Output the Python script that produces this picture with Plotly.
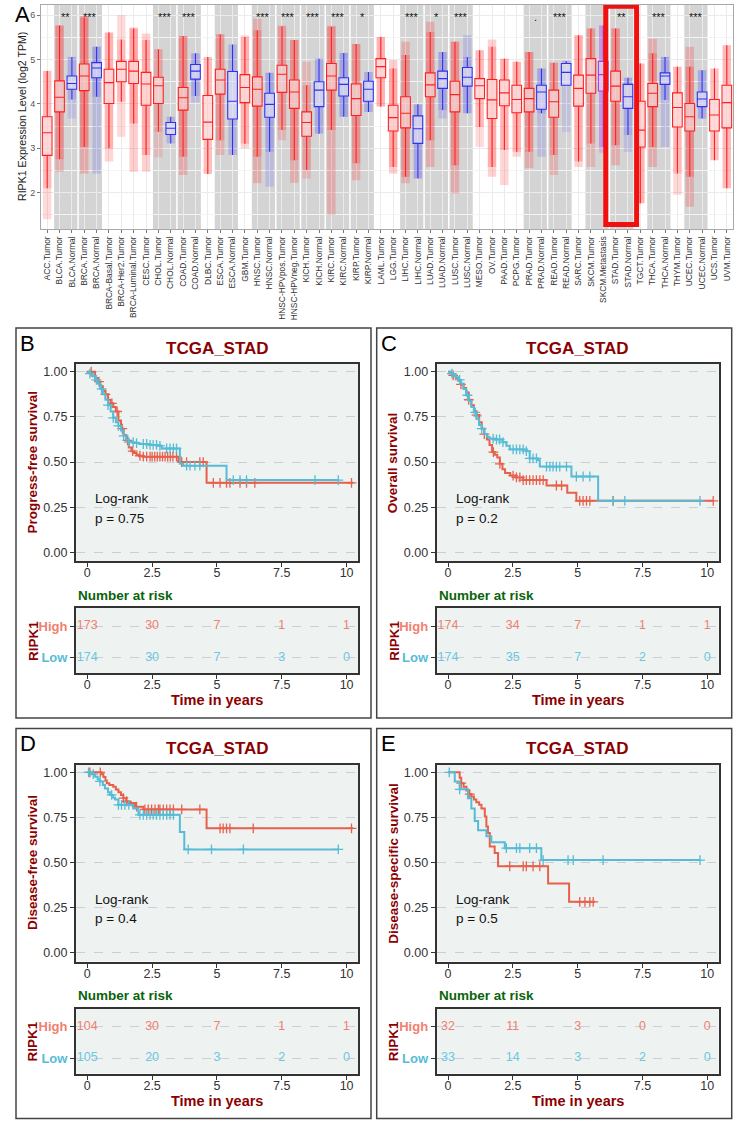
import numpy as np
import plotly.graph_objects as go

W, H = 740, 1127
FONT = "Liberation Sans, Arial, Helvetica, sans-serif"

# ---------------- Panel A data ----------------
cats = ["ACC.Tumor","BLCA.Tumor","BLCA.Normal","BRCA.Tumor","BRCA.Normal","BRCA-Basal.Tumor",
        "BRCA-Her2.Tumor","BRCA-Luminal.Tumor","CESC.Tumor","CHOL.Tumor","CHOL.Normal","COAD.Tumor",
        "COAD.Normal","DLBC.Tumor","ESCA.Tumor","ESCA.Normal","GBM.Tumor","HNSC.Tumor","HNSC.Normal",
        "HNSC-HPVpos.Tumor","HNSC-HPVneg.Tumor","KICH.Tumor","KICH.Normal","KIRC.Tumor","KIRC.Normal",
        "KIRP.Tumor","KIRP.Normal","LAML.Tumor","LGG.Tumor","LIHC.Tumor","LIHC.Normal","LUAD.Tumor",
        "LUAD.Normal","LUSC.Tumor","LUSC.Normal","MESO.Tumor","OV.Tumor","PAAD.Tumor","PCPG.Tumor",
        "PRAD.Tumor","PRAD.Normal","READ.Tumor","READ.Normal","SARC.Tumor","SKCM.Tumor","SKCM.Metastasis",
        "STAD.Tumor","STAD.Normal","TGCT.Tumor","THCA.Tumor","THCA.Normal","THYM.Tumor","UCEC.Tumor",
        "UCEC.Normal","UCS.Tumor","UVM.Tumor"]
q3  = [3.71,4.52,4.63,4.90,4.93,4.78,4.96,4.96,4.71,4.60,3.58,4.37,4.89,4.19,4.78,4.73,4.66,4.61,4.24,4.87,
       4.54,3.82,4.50,4.91,4.59,4.45,4.51,5.02,3.97,4.16,3.73,4.70,4.74,4.51,4.82,4.57,4.55,4.54,4.42,4.35,
       4.42,4.31,4.91,4.65,5.02,4.96,4.74,4.44,4.06,4.46,4.70,4.25,4.01,4.27,4.10,4.42]
med = [3.35,4.15,4.46,4.63,4.81,4.48,4.78,4.74,4.45,4.41,3.45,4.14,4.74,3.59,4.54,4.06,4.37,4.33,3.99,4.67,
       4.27,3.58,4.31,4.63,4.44,4.12,4.33,4.84,3.69,3.79,3.44,4.43,4.57,4.21,4.60,4.41,4.09,4.25,4.10,4.12,
       4.27,4.05,4.71,4.35,4.65,4.66,4.40,4.16,3.41,4.24,4.63,3.92,3.71,4.11,3.75,4.03]
q1  = [2.84,3.82,4.33,4.30,4.59,4.01,4.50,4.46,3.97,4.01,3.31,3.86,4.56,3.20,4.22,3.66,4.03,3.95,3.70,4.26,
       3.90,3.27,3.94,4.31,4.18,3.74,4.06,4.59,3.39,3.46,3.11,4.16,4.35,3.82,4.40,4.12,3.67,3.96,3.80,3.82,
       3.88,3.70,4.42,3.95,4.24,4.29,4.06,3.90,3.03,3.94,4.44,3.48,3.39,3.94,3.39,3.46]
whi = [4.74,5.77,5.06,5.95,5.29,5.61,5.45,5.70,5.44,5.23,3.71,5.53,5.14,5.06,5.57,5.34,5.51,5.66,4.70,5.75,
       5.44,4.42,5.02,5.74,5.15,5.35,4.72,5.51,4.80,5.10,3.99,5.62,5.17,5.40,5.06,5.21,5.29,5.02,4.95,5.17,
       4.80,4.93,4.97,5.55,5.70,5.77,5.70,4.59,4.91,5.14,5.06,4.84,4.84,4.76,4.80,5.32]
wlo = [2.10,2.75,4.10,3.03,4.16,3.00,4.05,3.56,2.85,3.37,3.11,2.81,4.18,2.42,3.18,2.85,3.10,2.81,2.92,3.41,
       2.73,2.51,3.33,3.41,3.71,2.66,3.82,3.94,2.58,2.36,2.32,3.18,3.86,2.62,3.79,3.48,2.58,2.96,2.92,2.92,
       3.79,2.85,4.41,2.70,3.11,3.03,3.07,3.30,1.76,3.03,4.09,2.43,2.36,3.67,2.73,2.10]
dot_max = [4.75,5.77,5.06,5.98,5.29,5.61,6.00,5.72,5.59,5.23,3.71,5.53,5.14,5.06,5.57,5.34,5.55,5.92,4.70,5.77,
           5.44,4.95,5.02,5.76,5.15,5.35,4.72,5.51,4.99,5.40,3.99,5.85,5.17,5.40,5.55,5.21,5.45,5.02,4.95,5.17,
           4.80,4.93,4.97,5.55,5.70,5.77,5.70,4.59,4.91,5.47,5.06,4.84,5.29,4.76,4.80,5.32]
dot_min = [1.40,2.47,3.67,2.43,2.43,2.70,3.26,2.47,2.47,2.80,3.11,2.40,4.03,2.42,2.85,2.85,3.00,2.21,2.13,3.18,
           2.22,2.32,3.33,1.50,3.71,2.28,3.82,3.94,2.43,2.21,2.32,2.58,3.67,1.98,3.79,3.03,2.36,2.17,2.81,2.55,
           2.81,2.40,3.37,2.58,2.58,2.90,2.62,2.92,1.76,2.58,3.03,1.95,1.68,3.67,2.73,2.10]
dot_density = [79,408,19,1093,112,190,82,566,304,36,9,457,41,48,184,11,153,520,44,97,421,66,25,533,72,290,32,
               173,516,371,50,515,59,501,51,87,303,178,179,497,52,166,10,259,103,368,415,35,150,509,59,120,545,
               35,57,80]
band_first = ["BLCA.Tumor","BRCA.Tumor","CHOL.Tumor","COAD.Tumor","ESCA.Tumor","HNSC.Tumor","HNSC-HPVpos.Tumor",
              "KICH.Tumor","KIRC.Tumor","KIRP.Tumor","LIHC.Tumor","LUAD.Tumor","LUSC.Tumor","PRAD.Tumor",
              "READ.Tumor","SKCM.Tumor","STAD.Tumor","THCA.Tumor","UCEC.Tumor"]
band_last = ["BLCA.Normal","BRCA.Normal","CHOL.Normal","COAD.Normal","ESCA.Normal","HNSC.Normal","HNSC-HPVneg.Tumor",
             "KICH.Normal","KIRC.Normal","KIRP.Normal","LIHC.Normal","LUAD.Normal","LUSC.Normal","PRAD.Normal",
             "READ.Normal","SKCM.Metastasis","STAD.Normal","THCA.Normal","UCEC.Normal"]
band_sig = ["**","***","***","***","","***","***","***","***","*","***","*","***",".","***","","**","***","***"]
highlight = ["STAD.Tumor", "STAD.Normal"]

# ---------------- KM data ----------------
B_hi_t = [0,0.3,0.4,0.5,0.6,0.7,0.8,0.9,1.0,1.1,1.2,1.3,1.4,1.5,1.6,1.7,1.8,1.9,2.0,2.15,3.51,4.6]
B_hi_s = [1,0.965,0.945,0.92,0.895,0.875,0.845,0.825,0.805,0.78,0.73,0.685,0.65,0.62,0.58,0.56,0.55,0.54,0.535,0.53,0.50,0.385]
B_hi_end = 10.26
B_hi_cens = [0.15,0.45,0.7,0.95,1.15,1.35,1.55,1.75,2.03,2.16,2.29,2.42,2.5,2.6,2.7,2.8,2.9,3.0,3.1,3.2,3.3,3.44,
             3.64,3.83,4.34,4.47,4.86,5.12,5.37,5.5,5.89,6.14,6.46,10.19]
B_lo_t = [0,0.1,0.2,0.3,0.4,0.5,0.6,0.7,0.8,0.9,1.0,1.1,1.2,1.3,1.4,1.5,1.6,1.8,2.0,2.4,2.73,2.87,3.57,3.70,5.37]
B_lo_s = [1,0.99,0.975,0.955,0.935,0.905,0.875,0.845,0.815,0.78,0.745,0.72,0.70,0.675,0.645,0.625,0.61,0.605,0.60,0.595,0.59,0.575,0.49,0.48,0.40]
B_lo_end = 9.68
B_lo_cens = [0.1,0.35,0.55,0.8,1.0,1.2,1.4,1.6,1.77,1.9,2.16,2.29,2.42,2.54,2.67,2.8,3.06,3.19,3.32,3.44,
             3.83,3.96,4.15,4.34,5.63,5.89,6.14,8.78,9.68]
B_risk_hi = [173, 30, 7, 1, 1]
B_risk_lo = [174, 30, 7, 3, 0]

C_hi_t = [0,0.1,0.2,0.3,0.4,0.5,0.6,0.7,0.8,0.9,1.0,1.1,1.2,1.3,1.4,1.5,1.6,1.7,1.8,1.9,2.0,2.1,2.2,2.4,2.6,2.9,3.8,4.6,4.95]
C_hi_s = [1,0.99,0.98,0.965,0.95,0.93,0.91,0.885,0.845,0.815,0.78,0.76,0.72,0.685,0.655,0.625,0.595,0.555,0.54,0.525,0.49,0.46,0.44,0.425,0.415,0.40,0.37,0.33,0.285]
C_hi_end = 10.23
C_hi_cens = [0.2,0.5,0.8,1.1,1.4,1.75,2.0,2.51,2.64,2.77,2.90,3.02,3.15,3.28,3.41,3.54,3.67,4.18,4.38,5.08,5.21,5.34,5.47,6.37,10.23]
C_lo_t = [0,0.1,0.2,0.3,0.4,0.5,0.6,0.7,0.8,0.9,1.0,1.1,1.2,1.3,1.4,1.5,1.6,1.8,2.1,2.25,2.38,3.02,3.15,3.47,3.54,4.76,5.79]
C_lo_s = [1,0.99,0.98,0.97,0.955,0.935,0.905,0.87,0.84,0.805,0.775,0.74,0.705,0.685,0.655,0.64,0.63,0.625,0.61,0.59,0.57,0.56,0.52,0.51,0.475,0.42,0.285]
C_lo_end = 9.72
C_lo_cens = [0.15,0.45,0.75,1.05,1.3,1.74,1.87,1.99,2.12,2.51,2.64,2.77,2.90,3.02,3.15,3.28,3.41,3.80,3.93,4.05,
             4.18,4.31,4.57,4.95,5.21,5.47,6.37,6.82,9.72]
C_risk_hi = [174, 34, 7, 1, 1]
C_risk_lo = [174, 35, 7, 2, 0]

D_hi_t = [0,0.55,0.62,0.7,0.75,0.85,1.0,1.1,1.2,1.3,1.39,1.5,1.58,1.84,2.16,4.6]
D_hi_s = [1,0.99,0.975,0.955,0.94,0.93,0.92,0.905,0.89,0.875,0.857,0.84,0.83,0.81,0.795,0.69]
D_hi_end = 10.26
D_hi_cens = [0.1,0.5,1.39,1.52,1.9,2.22,2.35,2.48,2.61,2.74,2.80,2.93,3.06,3.19,3.32,3.64,4.34,5.12,5.24,5.37,5.50,6.40,10.19]
D_lo_t = [0,0.15,0.3,0.4,0.49,0.6,0.68,0.8,0.87,1.0,1.07,1.2,1.77,1.97,3.57,3.74]
D_lo_s = [1,0.99,0.976,0.96,0.95,0.93,0.91,0.89,0.875,0.86,0.85,0.82,0.80,0.765,0.67,0.573]
D_lo_end = 9.68
D_lo_cens = [0.05,0.23,0.49,0.94,1.2,1.32,1.45,1.6,2.03,2.16,2.29,2.42,2.54,2.67,2.80,2.93,3.06,3.19,3.32,3.89,4.79,6.02,9.68]
D_risk_hi = [104, 30, 7, 1, 1]
D_risk_lo = [105, 20, 3, 2, 0]

E_hi_t = [0,0.45,0.51,0.6,0.71,0.8,0.9,1.0,1.09,1.2,1.29,1.42,1.48,1.54,1.61,1.8,1.93,3.86,4.67]
E_hi_s = [1,0.97,0.94,0.92,0.90,0.88,0.866,0.85,0.835,0.82,0.80,0.756,0.70,0.664,0.59,0.554,0.48,0.385,0.283]
E_hi_end = 5.66
E_hi_cens = [0.51,0.84,2.38,2.90,3.02,3.28,3.54,5.08,5.28,5.47,5.60]
E_lo_t = [0,0.26,0.45,0.77,0.90,1.03,1.16,1.48,1.67,2.19,3.60]
E_lo_s = [1,0.949,0.906,0.857,0.80,0.73,0.68,0.646,0.613,0.58,0.514]
E_lo_end = 9.72
E_lo_cens = [0.05,0.45,2.25,2.64,2.77,3.15,3.41,3.67,4.63,4.83,5.98,9.72]
E_risk_hi = [32, 11, 3, 0, 0]
E_risk_lo = [33, 14, 3, 2, 0]

risk_times = [0, 2.5, 5, 7.5, 10]
time_ticks = [0, 2.5, 5, 7.5, 10]
time_ticktext = ["0", "2.5", "5", "7.5", "10"]
surv_ticks = [0, 0.25, 0.5, 0.75, 1.0]
surv_ticktext = ["0.00", "0.25", "0.50", "0.75", "1.00"]

# ---------------- helpers ----------------
def PX(x): return x / W
def PY(y): return 1 - y / H

RED_L, BLUE_L = "#E8604C", "#56BCD6"
RED_T, BLUE_T = "#F08070", "#6CC7E0"
DARKRED, DARKGREEN = "#8B0000", "#0A640A"

fig = go.Figure()
annotations, shapes = [], []
layout = dict(width=W, height=H, margin=dict(l=0, r=0, t=0, b=0), paper_bgcolor="white",
              plot_bgcolor="white", showlegend=False, font=dict(family=FONT, color="#222"),
              barmode="overlay", boxmode="overlay")

# ---------------- Panel A ----------------
pos = np.arange(1, len(cats) + 1)
def group_of(c):
    return c.split(".")[-1]
rgb = {"Tumor": (255, 30, 30), "Normal": (50, 50, 245), "Metastasis": (165, 50, 240)}
line_col = {"Tumor": "#FF1F1F", "Normal": "#3030EE", "Metastasis": "#A040F0"}
groups = [group_of(c) for c in cats]
alpha_out = [0.05 + 0.06 * np.log10(n) for n in dot_density]
alpha_in = [0.03 + 0.07 * np.log10(n) for n in dot_density]
col_out = [f"rgba({rgb[g][0]},{rgb[g][1]},{rgb[g][2]},{a:.3f})" for g, a in zip(groups, alpha_out)]
col_in = [f"rgba({rgb[g][0]},{rgb[g][1]},{rgb[g][2]},{a:.3f})" for g, a in zip(groups, alpha_in)]
fig.add_trace(go.Bar(x=pos, y=np.array(dot_max) - np.array(dot_min), base=dot_min, width=0.68,
                     marker=dict(color=col_out, line=dict(width=0)), xaxis="x", yaxis="y", hoverinfo="skip"))
fig.add_trace(go.Bar(x=pos, y=np.array(whi) - np.array(wlo), base=wlo, width=0.68,
                     marker=dict(color=col_in, line=dict(width=0)), xaxis="x", yaxis="y", hoverinfo="skip"))
for g in ["Tumor", "Normal", "Metastasis"]:
    idx = [i for i, gg in enumerate(groups) if gg == g]
    fig.add_trace(go.Box(x=pos[idx], q1=[q1[i] for i in idx], median=[med[i] for i in idx],
                         q3=[q3[i] for i in idx], lowerfence=[wlo[i] for i in idx],
                         upperfence=[whi[i] for i in idx], width=0.78, whiskerwidth=0,
                         line=dict(color=line_col[g], width=1.1), fillcolor="rgba(255,255,255,0.45)",
                         boxpoints=False, xaxis="x", yaxis="y", hoverinfo="skip"))

for f, l, s in zip(band_first, band_last, band_sig):
    a = cats.index(f) + 1
    b = cats.index(l) + 1
    shapes.append(dict(type="rect", xref="x", yref="paper", x0=a - 0.44, x1=b + 0.44,
                       y0=PY(229), y1=PY(5), fillcolor="#D4D4D4", line=dict(width=0), layer="between"))
    if s:
        annotations.append(dict(x=(a + b) / 2, y=5.95, xref="x", yref="y", text=s, showarrow=False,
                                font=dict(size=11, color="#111"), xanchor="center", yanchor="middle"))
ha = cats.index(highlight[0]) + 1
hb = cats.index(highlight[1]) + 1
shapes.append(dict(type="rect", xref="x", yref="y", x0=ha - 0.8, x1=hb + 0.7, y0=1.28, y1=6.2,
                   line=dict(color="#F01010", width=5), fillcolor="rgba(0,0,0,0)", layer="above"))

layout["xaxis"] = dict(domain=[PX(41), PX(733)], range=[0.5, len(cats) + 0.5], tickmode="array",
                       tickvals=list(pos), ticktext=cats, tickangle=-90,
                       tickfont=dict(size=8.4, color="#333", family=FONT), showgrid=True, gridcolor="#EBEBEB",
                       ticks="outside", ticklen=3, tickcolor="#777", showline=True, mirror=True,
                       linecolor="#A8A8A8", linewidth=1, zeroline=False, anchor="y")
layout["yaxis"] = dict(domain=[PY(229), PY(5)], range=[1.18, 6.23], tickvals=[2, 3, 4, 5, 6],
                       tickfont=dict(size=9, color="#555", family=FONT), showgrid=True, gridcolor="#EBEBEB",
                       minor=dict(tickvals=[1.5, 2.5, 3.5, 4.5, 5.5], showgrid=True, gridcolor="#F4F4F4"),
                       ticks="outside", ticklen=3, tickcolor="#777", showline=True, mirror=True,
                       linecolor="#A8A8A8", linewidth=1, zeroline=False, anchor="x")
annotations.append(dict(x=PX(13), y=PY(14.5), xref="paper", yref="paper", text="A", showarrow=False,
                        font=dict(size=22, color="black"), xanchor="left", yanchor="middle"))
annotations.append(dict(x=PX(22), y=PY(117), xref="paper", yref="paper",
                        text="RIPK1 Expression Level (log2 TPM)", showarrow=False, textangle=-90,
                        font=dict(size=10.6, color="#222"), xanchor="center", yanchor="middle"))

# ---------------- KM panels ----------------
def step_eval(t, s, c):
    idx = np.searchsorted(np.array(t), np.array(c), side="right") - 1
    return np.array(s)[idx]

panels = [
    ("B", 0.0, 0.0, "Progress-free survival", "p = 0.75", (B_hi_t, B_hi_s, B_hi_end, B_hi_cens),
     (B_lo_t, B_lo_s, B_lo_end, B_lo_cens), B_risk_hi, B_risk_lo),
    ("C", 360.7, 0.0, "Overall survival", "p = 0.2", (C_hi_t, C_hi_s, C_hi_end, C_hi_cens),
     (C_lo_t, C_lo_s, C_lo_end, C_lo_cens), C_risk_hi, C_risk_lo),
    ("D", 0.0, 400.6, "Disease-free survival", "p = 0.4", (D_hi_t, D_hi_s, D_hi_end, D_hi_cens),
     (D_lo_t, D_lo_s, D_lo_end, D_lo_cens), D_risk_hi, D_risk_lo),
    ("E", 360.7, 400.6, "Disease-specific survival", "p = 0.5", (E_hi_t, E_hi_s, E_hi_end, E_hi_cens),
     (E_lo_t, E_lo_s, E_lo_end, E_lo_cens), E_risk_hi, E_risk_lo),
]

XR = [-0.436, 10.44]
for i, (lab, dx, dy, ytitle, ptxt, hi, lo, rhi, rlo) in enumerate(panels):
    n_km, n_rk = 2 + 2 * i, 3 + 2 * i
    xk, yk, xr, yr = f"x{n_km}", f"y{n_km}", f"x{n_rk}", f"y{n_rk}"
    shapes.append(dict(type="rect", xref="paper", yref="paper", x0=PX(16 + dx), x1=PX(371 + dx),
                       y0=PY(718 + dy), y1=PY(328 + dy), line=dict(color="#444", width=1.5),
                       fillcolor="rgba(0,0,0,0)", layer="above"))
    for xx, yy in [(xk, yk), (xr, yr)]:
        shapes.append(dict(type="rect", xref=f"{xx} domain", yref=f"{yy} domain", x0=0, x1=1, y0=0, y1=1,
                           fillcolor="#EEF2F1", line=dict(width=0), layer="below"))
    for (t, s, end, cens), col in [(hi, RED_L), (lo, BLUE_L)]:
        fig.add_trace(go.Scatter(x=list(t) + [end], y=list(s) + [s[-1]], mode="lines",
                                 line=dict(color=col, width=2, shape="hv"), xaxis=xk, yaxis=yk,
                                 hoverinfo="skip"))
        fig.add_trace(go.Scatter(x=cens, y=step_eval(t, s, cens), mode="markers",
                                 marker=dict(symbol="cross-thin", size=7, line=dict(color=col, width=1.3)),
                                 xaxis=xk, yaxis=yk, hoverinfo="skip", cliponaxis=False))
    fig.add_trace(go.Scatter(x=risk_times, y=[2] * 5, mode="text", text=[str(v) for v in rhi],
                             textfont=dict(color=RED_T, size=12.5, family=FONT), xaxis=xr, yaxis=yr,
                             cliponaxis=False, hoverinfo="skip"))
    fig.add_trace(go.Scatter(x=risk_times, y=[1] * 5, mode="text", text=[str(v) for v in rlo],
                             textfont=dict(color=BLUE_T, size=12.5, family=FONT), xaxis=xr, yaxis=yr,
                             cliponaxis=False, hoverinfo="skip"))
    xdom = [PX(76 + dx), PX(358 + dx)]
    common_x = dict(domain=xdom, range=XR, tickvals=time_ticks, ticktext=time_ticktext, showgrid=False,
                    zeroline=False, ticks="outside", ticklen=4, tickcolor="#333", ticklabelstandoff=-5,
                    tickfont=dict(size=12.5, color="#333", family=FONT), showline=True, mirror=True,
                    linecolor="#333", linewidth=2)
    layout[f"xaxis{n_km}"] = dict(common_x, anchor=yk)
    layout[f"xaxis{n_rk}"] = dict(common_x, anchor=yr)
    layout[f"yaxis{n_km}"] = dict(domain=[PY(561 + dy), PY(364 + dy)], range=[-0.048, 1.043],
                                  tickvals=surv_ticks, ticktext=surv_ticktext, showgrid=True,
                                  gridcolor="#C9CFD2", griddash="dash", gridwidth=1, zeroline=False,
                                  ticks="outside", ticklen=4, tickcolor="#333",
                                  tickfont=dict(size=12.5, color="#333", family=FONT), showline=True,
                                  mirror=True, linecolor="#333", linewidth=2, anchor=xk)
    layout[f"yaxis{n_rk}"] = dict(domain=[PY(673 + dy), PY(608 + dy)], range=[0.516, 2.58],
                                  tickvals=[1, 2],
                                  ticktext=[f'<span style="color:{BLUE_L}"><b>Low</b></span>',
                                            f'<span style="color:{RED_T}"><b>High</b></span>'],
                                  showgrid=True, gridcolor="#C9CFD2", griddash="dash", gridwidth=1,
                                  zeroline=False, ticks="outside", ticklen=4, tickcolor="#333",
                                  tickfont=dict(size=13, family=FONT), showline=True, mirror=True,
                                  linecolor="#333", linewidth=2, anchor=xr)
    def ann(x, y, text, size, color, bold=False, angle=0, xanchor="center"):
        annotations.append(dict(x=PX(x), y=PY(y), xref="paper", yref="paper",
                                text=f"<b>{text}</b>" if bold else text, showarrow=False, textangle=angle,
                                font=dict(size=size, color=color, family=FONT), xanchor=xanchor,
                                yanchor="middle"))
    ann(18 + dx, 343 + dy, lab, 22, "black", xanchor="left")
    ann(217 + dx, 348 + dy, "TCGA_STAD", 17, DARKRED, bold=True)
    ann(32 + dx, 462.5 + dy, ytitle, 13.5, DARKRED, bold=True, angle=-90)
    ann(93 + dx, 499 + dy, "Log-rank", 13.5, "#111", xanchor="left")
    ann(93 + dx, 518 + dy, ptxt, 13.5, "#111", xanchor="left")
    ann(76 + dx, 595 + dy, "Number at risk", 13.5, DARKGREEN, bold=True, xanchor="left")
    ann(33 + dx, 641 + dy, "RIPK1", 13.5, DARKRED, bold=True, angle=-90)
    ann(217 + dx, 700 + dy, "Time in years", 14.5, DARKRED, bold=True)

layout["annotations"] = annotations
layout["shapes"] = shapes
fig.update_layout(**layout)
fig.write_html("out.html")
